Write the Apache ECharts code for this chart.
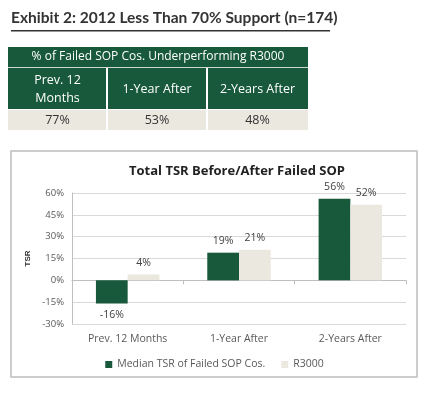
<!DOCTYPE html>
<html>
<head>
<meta charset="utf-8">
<script src="https://cdn.jsdelivr.net/npm/echarts@6/dist/echarts.min.js"></script>
<style>
  html, body { margin: 0; padding: 0; background: #fff; }
  #main { width: 429px; height: 399px; }
</style>
</head>
<body>
<div id="main"></div>
<script>
var categories = ['Prev. 12 Months', '1-Year After', '2-Years After'];
var failedTsr = [-16, 19, 56];
var r3000Tsr = [4, 21, 52];
var tableHeads = ['Prev. 12\nMonths', '1-Year After', '2-Years After'];
var underperforming = ['77%', '53%', '48%'];
var yTicks = [-30, -15, 0, 15, 30, 45, 60];

var green = '#17593a';
var beige = '#ebe8df';
var textGray = '#595959';

var myChart = echarts.init(document.getElementById('main'));

// table drawn as graphic elements
var colX = [8, 107, 207, 308];
var graphics = [
    {
        type: 'text', left: 11, top: 10,
        style: { text: 'Exhibit 2: 2012 Less Than 70% Support (n=174)', font: 'bold 15.5px Lato', fill: '#333' }
    },
    { type: 'rect', shape: { x: 11, y: 30, width: 319, height: 1.5 }, style: { fill: '#333' } },
    { type: 'rect', shape: { x: 8, y: 47, width: 300, height: 62 }, style: { fill: green } },
    { type: 'rect', shape: { x: 8, y: 110, width: 300, height: 20 }, style: { fill: beige } },
    { type: 'rect', shape: { x: 8, y: 67, width: 300, height: 1 }, style: { fill: '#cfd8d2' } },
    {
        type: 'text', x: 158, y: 57,
        style: { text: '% of Failed SOP Cos. Underperforming R3000', font: '12px "Open Sans"', fill: '#fff', align: 'center', verticalAlign: 'middle' }
    }
];
for (var i = 0; i < 3; i++) {
    var cx = (colX[i] + colX[i + 1]) / 2;
    graphics.push({
        type: 'text', x: cx, y: 89,
        style: { text: tableHeads[i], font: '12.5px "Open Sans"', lineHeight: 18, fill: '#fff', align: 'center', verticalAlign: 'middle' }
    });
    graphics.push({
        type: 'text', x: cx, y: 120,
        style: { text: underperforming[i], font: '12.5px "Open Sans"', fill: '#333', align: 'center', verticalAlign: 'middle' }
    });
    if (i > 0) {
        graphics.push({ type: 'rect', shape: { x: colX[i] - 1, y: 68, width: 2, height: 62 }, style: { fill: '#fff' } });
    }
}
graphics.push({
    type: 'rect', shape: { x: 11, y: 151, width: 406, height: 226 },
    style: { fill: 'none', stroke: '#bdbdbd', lineWidth: 1.5 }, z: -1
});

function makeData(values) {
    return values.map(function (v) {
        return { value: v, label: { position: v < 0 ? 'bottom' : 'top' } };
    });
}

var labelStyle = {
    show: true, formatter: '{c}%', color: '#404040', fontSize: 10.5, fontFamily: 'Open Sans', distance: 6
};

var option = {
    animation: false,
    title: {
        text: 'Total TSR Before/After Failed SOP',
        left: 232, top: 160, textAlign: 'center',
        textStyle: { fontSize: 13, fontWeight: 'bold', color: '#222', fontFamily: 'Open Sans' }
    },
    graphic: graphics,
    legend: {
        top: 354, left: 'center',
        itemWidth: 7, itemHeight: 7, itemGap: 16,
        icon: 'rect',
        textStyle: { color: textGray, fontSize: 10.5, fontFamily: 'Open Sans' },
        data: ['Median TSR of Failed SOP Cos.', 'R3000']
    },
    grid: { left: 72, right: 23, top: 193, bottom: 75 },
    xAxis: {
        type: 'category',
        data: categories,
        axisLine: { onZero: true, lineStyle: { color: '#bfbfbf' } },
        axisTick: { show: true, length: 4, lineStyle: { color: '#bfbfbf' } },
        axisLabel: { color: textGray, fontSize: 10.5, fontFamily: 'Open Sans', margin: 10 },
        position: 'bottom'
    },
    yAxis: {
        type: 'value',
        min: yTicks[0], max: yTicks[yTicks.length - 1], interval: 15,
        name: 'TSR', nameLocation: 'middle', nameGap: 40, nameRotate: 90,
        nameTextStyle: { fontSize: 8, fontWeight: 'bold', color: '#333' },
        axisLine: { show: true, lineStyle: { color: '#bfbfbf' } },
        axisTick: { show: false },
        axisLabel: { formatter: '{value}%', color: textGray, fontSize: 9.5, fontFamily: 'Open Sans', margin: 8 },
        splitLine: { lineStyle: { color: '#d9d9d9' } }
    },
    series: [
        {
            name: 'Median TSR of Failed SOP Cos.',
            type: 'bar',
            data: makeData(failedTsr),
            itemStyle: { color: green },
            barGap: '0%', barCategoryGap: '43%',
            label: labelStyle
        },
        {
            name: 'R3000',
            type: 'bar',
            data: makeData(r3000Tsr),
            itemStyle: { color: beige },
            label: labelStyle
        }
    ]
};

myChart.setOption(option);
</script>
</body>
</html>
